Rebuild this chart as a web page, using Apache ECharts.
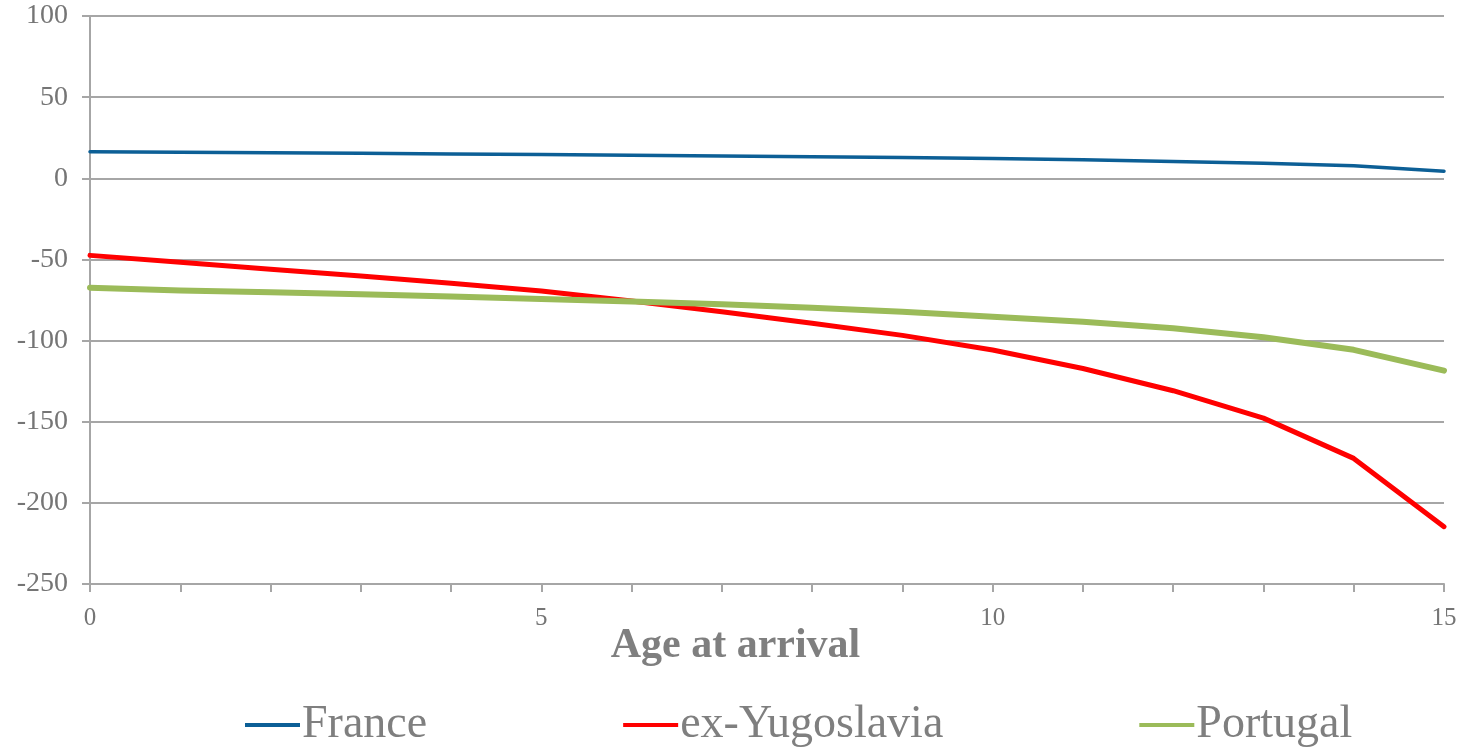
<!DOCTYPE html>
<html>
<head>
<meta charset="utf-8">
<script src="https://cdn.jsdelivr.net/npm/echarts@6/dist/echarts.min.js"></script>
<style>
html,body{margin:0;padding:0;background:#fff;}
#chart{width:1471px;height:747px;}
</style>
</head>
<body>
<div id="chart"></div>
<script>
var ages = ['0','1','2','3','4','5','6','7','8','9','10','11','12','13','14','15'];
var france = [16.3, 16.0, 15.7, 15.4, 15.0, 14.6, 14.2, 13.8, 13.3, 12.8, 12.2, 11.4, 10.4, 9.2, 7.7, 4.4];
var exYugoslavia = [-47.5, -51.8, -56.0, -60.2, -64.7, -69.5, -75.6, -82.2, -89.3, -96.8, -105.8, -117.2, -130.9, -147.8, -172.6, -214.7];
var portugal = [-67.4, -69.1, -70.3, -71.4, -72.8, -74.4, -76.0, -77.6, -79.7, -82.2, -85.3, -88.4, -92.4, -98.0, -105.7, -118.5];
var yTicks = {min: -250, max: 100, interval: 50};
var seriesNames = ['France', 'ex-Yugoslavia', 'Portugal'];
var xTitle = 'Age at arrival';

var FONT = '"Liberation Serif", "DejaVu Serif", serif';
var chart = echarts.init(document.getElementById('chart'));
chart.setOption({
  animation: false,
  backgroundColor: '#ffffff',
  title: {
    text: xTitle,
    left: 'center',
    top: 620,
    textStyle: {fontFamily: FONT, fontWeight: 'bold', fontSize: 42, color: '#7f7f7f'}
  },
  legend: {
    left: 240,
    top: 697,
    icon: 'rect',
    itemWidth: 55,
    itemHeight: 4,
    itemGap: 196,
    textStyle: {fontFamily: FONT, fontSize: 46, color: '#7f7f7f', padding: [0, 0, 0, -3]},
    data: seriesNames
  },
  grid: {left: 90, right: 27, top: 16, bottom: 163, containLabel: false},
  xAxis: {
    type: 'category',
    data: ages,
    boundaryGap: false,
    axisLine: {show: true, onZero: false, lineStyle: {color: '#a6a6a6', width: 2}},
    axisTick: {show: true, interval: 0, length: 8, inside: false, lineStyle: {color: '#a6a6a6', width: 2}},
    axisLabel: {interval: 4, margin: 22, fontFamily: FONT, fontSize: 25, color: '#757575'},
    splitLine: {show: false}
  },
  yAxis: {
    type: 'value',
    min: yTicks.min,
    max: yTicks.max,
    interval: yTicks.interval,
    axisLine: {show: true, lineStyle: {color: '#a6a6a6', width: 2}},
    axisTick: {show: true, length: 8, lineStyle: {color: '#a6a6a6', width: 2}},
    axisLabel: {margin: 22, fontFamily: FONT, fontSize: 28, color: '#757575'},
    splitLine: {show: true, lineStyle: {color: '#a6a6a6', width: 2}}
  },
  series: [
    {name: seriesNames[0], type: 'line', data: france, symbol: 'none', smooth: false,
     color: '#0c5f96', lineStyle: {width: 3.5, color: '#0c5f96', cap: 'round', join: 'round'}},
    {name: seriesNames[1], type: 'line', data: exYugoslavia, symbol: 'none', smooth: false,
     color: '#ff0000', lineStyle: {width: 5, color: '#ff0000', cap: 'round', join: 'round'}},
    {name: seriesNames[2], type: 'line', data: portugal, symbol: 'none', smooth: false,
     color: '#9bbb59', lineStyle: {width: 6, color: '#9bbb59', cap: 'round', join: 'round'}}
  ]
});
</script>
</body>
</html>
